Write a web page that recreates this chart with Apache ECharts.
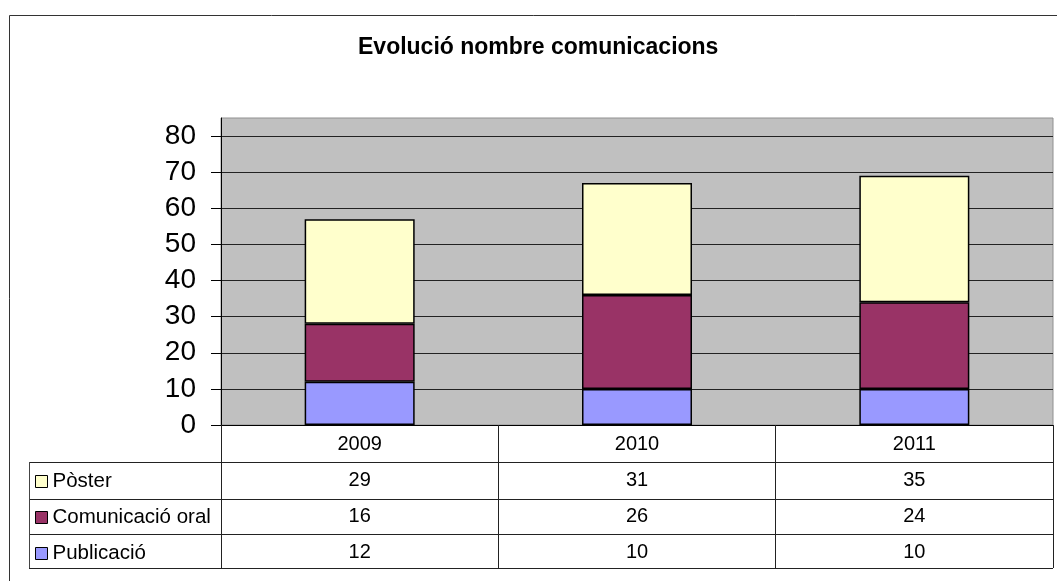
<!DOCTYPE html>
<html>
<head>
<meta charset="utf-8">
<script src="https://cdn.jsdelivr.net/npm/echarts@6/dist/echarts.min.js"></script>
<style>
  html, body { margin: 0; padding: 0; background: #fff; }
  #chart { width: 1057px; height: 581px; }
</style>
</head>
<body>
<div id="chart"></div>
<script>
// dades del gràfic
var years = ['2009', '2010', '2011']
var publicacio = [12, 10, 10]
var comOral = [16, 26, 24]
var poster = [29, 31, 35]
var yTicks = [0, 10, 20, 30, 40, 50, 60, 70, 80]

var FONT = '"Liberation Sans", Arial, sans-serif'
var chart = echarts.init(document.getElementById('chart'))

// línies de la taula de dades (sota l'eix)
var tableRows = [462, 499, 534, 568]
var tableLines = tableRows.map(function (y) {
  return {
    type: 'line',
    shape: { x1: 29, y1: y + 0.5, x2: 1053, y2: y + 0.5 },
    style: { stroke: '#222', lineWidth: 1 },
    z: 10
  }
})
tableLines.push({
  type: 'line',
  shape: { x1: 29.5, y1: 462, x2: 29.5, y2: 568 },
  style: { stroke: '#444', lineWidth: 1 },
  z: 10
})

var barStyle = function (color) {
  return { color: color, borderColor: '#000', borderWidth: 1.5 }
}

var option = {
  animation: false,
  backgroundColor: '#fff',
  textStyle: { fontFamily: FONT },
  title: {
    text: 'Evolució nombre comunicacions',
    left: 358,
    top: 36,
    padding: 0,
    textStyle: { fontFamily: FONT, fontSize: 23, fontWeight: 'bold', color: '#000' }
  },
  graphic: [{
    type: 'rect',
    shape: { x: 9.5, y: 15.5, width: 1200, height: 800 },
    style: { fill: 'none', stroke: '#333', lineWidth: 1 },
    z: -1
  }].concat(tableLines),
  legend: {
    orient: 'vertical',
    left: 35,
    top: 471,
    padding: 0,
    itemWidth: 12,
    itemHeight: 12,
    itemGap: 15,
    icon: 'rect',
    data: ['Pòster', 'Comunicació oral', 'Publicació'],
    itemStyle: { borderColor: '#000', borderWidth: 1 },
    textStyle: { fontFamily: FONT, fontSize: 20.5, color: '#000', lineHeight: 20 }
  },
  grid: {
    left: 221,
    right: 4,
    top: 118,
    bottom: 156,
    show: true,
    backgroundColor: '#c0c0c0',
    borderColor: '#909090',
    borderWidth: 1
  },
  xAxis: {
    type: 'category',
    data: years,
    axisLine: { show: true, lineStyle: { color: '#000', width: 1 } },
    axisTick: { show: true, length: 143, interval: 0, lineStyle: { color: '#222', width: 1 } },
    axisLabel: {
      margin: 1,
      interval: 0,
      fontFamily: FONT,
      fontSize: 20,
      lineHeight: 36,
      color: '#000',
      formatter: function (value, idx) {
        return [value, poster[idx], comOral[idx], publicacio[idx]].join('\n')
      }
    },
    splitLine: { show: false }
  },
  yAxis: {
    type: 'value',
    min: 0,
    max: 85,
    interval: 10,
    axisLine: { show: true, lineStyle: { color: '#000', width: 1 } },
    axisTick: { show: true, length: 10, customValues: yTicks, lineStyle: { color: '#000' } },
    axisLabel: {
      customValues: yTicks,
      margin: 25,
      fontFamily: FONT,
      fontSize: 28,
      color: '#000'
    },
    splitLine: { show: true, lineStyle: { color: '#222', width: 1 } }
  },
  series: [
    {
      name: 'Publicació',
      type: 'bar',
      stack: 'total',
      barWidth: 110,
      itemStyle: barStyle('#9999ff'),
      data: publicacio
    },
    {
      name: 'Comunicació oral',
      type: 'bar',
      stack: 'total',
      barWidth: 110,
      itemStyle: barStyle('#993366'),
      data: comOral
    },
    {
      name: 'Pòster',
      type: 'bar',
      stack: 'total',
      barWidth: 110,
      itemStyle: barStyle('#ffffcc'),
      data: poster
    }
  ]
}

chart.setOption(option)
</script>
</body>
</html>
